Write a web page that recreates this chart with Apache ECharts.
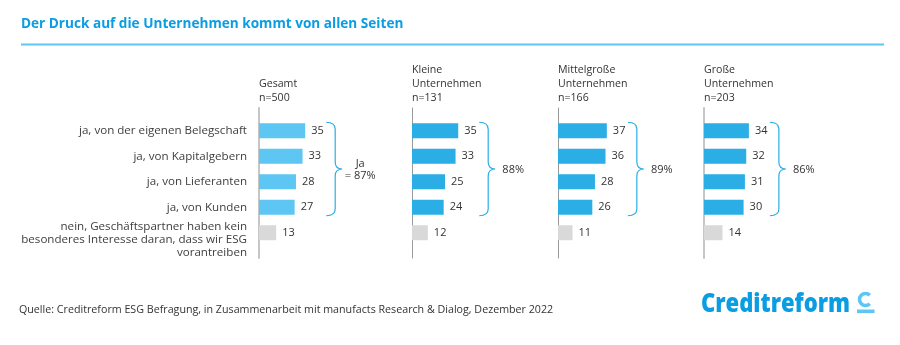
<!DOCTYPE html>
<html><head><meta charset="utf-8">
<script src="https://cdn.jsdelivr.net/npm/echarts@6/dist/echarts.min.js"></script>
<style>html,body{margin:0;padding:0;background:#fff}#c{width:900px;height:345px}</style>
</head><body><div id="c"></div>
<script>
// ---- data ----
const categories = [
  'ja, von der eigenen Belegschaft',
  'ja, von Kapitalgebern',
  'ja, von Lieferanten',
  'ja, von Kunden',
  'nein, Geschäftspartner haben kein\nbesonderes Interesse daran, dass wir ESG\nvorantreiben'
];
const groups = ['Gesamt', 'Kleine\nUnternehmen', 'Mittelgroße\nUnternehmen', 'Große\nUnternehmen'];
const groupN = [500, 131, 166, 203];
const gesamt = [35, 33, 28, 27, 13];
const kleine = [35, 33, 25, 24, 12];
const mittel = [37, 36, 28, 26, 11];
const grosse = [34, 32, 31, 30, 14];
const yesTotals = [87, 88, 89, 86];
const yesPrefix = ['Ja\n= ', '', '', ''];
const chartTitle = 'Der Druck auf die Unternehmen kommt von allen Seiten';
const sourceText = 'Quelle: Creditreform ESG Befragung, in Zusammenarbeit mit manufacts Research & Dialog, Dezember 2022';
const logoText = 'Creditreform';

// ---- layout / style ----
const FONT = '"Open Sans", "DejaVu Sans", sans-serif';
const values = [gesamt, kleine, mittel, grosse];
const axisX = [259, 412, 558, 704];
const gridW = 132, xMax = 100;
const barColors = ['#5ec6f2', '#2aaee5', '#2aaee5', '#2aaee5'];
const grayColor = '#d9d9d9';
const axisLineStyles = [
  {color: '#c6c6c6', width: 2}, {color: '#9a9a9a', width: 1},
  {color: '#9a9a9a', width: 1}, {color: '#c6c6c6', width: 2}
];
const barH = 15;
const LBL = 11.6;

const grids = [], xAxes = [], yAxes = [], series = [], titles = [];
values.forEach((vals, i) => {
  grids.push({left: axisX[i], top: 118, width: gridW, height: 127.5});
  xAxes.push({gridIndex: i, type: 'value', min: 0, max: xMax, show: false});
  yAxes.push({
    gridIndex: i, type: 'category', inverse: true, data: categories,
    axisLine: {show: false}, axisTick: {show: false},
    axisLabel: i === 0 ? {
      show: true, interval: 0, showMinLabel: true, showMaxLabel: true, hideOverlap: false,
      margin: 12, fontSize: LBL, color: '#404040', fontFamily: FONT, lineHeight: 13,
      // multi-line label sits a little lower in the reference: one empty leading line shifts it
      formatter: (v) => (v.indexOf('\n') < 0 ? v : '\n' + v)
    } : {show: false}
  });
  series.push({
    type: 'bar', xAxisIndex: i, yAxisIndex: i, barWidth: barH,
    data: vals.map((v, k) => ({value: v, itemStyle: {color: k === 4 ? grayColor : barColors[i]}})),
    label: {show: true, position: 'right', distance: 6, fontSize: 11, color: '#333', fontFamily: FONT},
    silent: true, z: 3
  });
  const yesMax = Math.max(...vals.slice(0, 4));
  series.push({
    type: 'custom', xAxisIndex: i, yAxisIndex: i, silent: true, z: 4,
    data: [[yesMax, 0, 3, yesPrefix[i] + yesTotals[i] + '%']],
    renderItem: (params, api) => {
      const xv = api.value(0);
      const p0 = api.coord([xv, api.value(1)]);
      const p1 = api.coord([xv, api.value(2)]);
      const xL = p0[0] + 21, xV = xL + 9, xT = xL + 16;
      const y0 = p0[1] - barH / 2 - 1, y1 = p1[1] + barH / 2 + 1, ym = (y0 + y1) / 2, r = 7;
      const d = `M${xL},${y0} Q${xV},${y0} ${xV},${y0 + r} L${xV},${ym - r} Q${xV},${ym} ${xT},${ym} ` +
                `Q${xV},${ym} ${xV},${ym + r} L${xV},${y1 - r} Q${xV},${y1} ${xL},${y1}`;
      const item = series[params.seriesIndex].data[params.dataIndex];
      return {type: 'group', children: [
        {type: 'path', shape: {pathData: d}, style: {fill: 'none', stroke: '#2aaee5', lineWidth: 1.2}},
        {type: 'text', x: xT + 18, y: ym + 1, style: {
          text: String(item[3]), align: 'center', verticalAlign: 'middle',
          fontSize: 11, fontFamily: FONT, fill: '#333', lineHeight: 12
        }}
      ]};
    }
  });
  titles.push({
    text: groups[i] + '\nn=' + groupN[i], left: axisX[i], bottom: 240, padding: 0,
    textStyle: {fontSize: 10.6, fontWeight: 'normal', color: '#333', fontFamily: FONT, lineHeight: 14}
  });
});
values.forEach((vals, i) => {
  grids.push({left: axisX[i], top: 108, width: gridW, height: 150});
  xAxes.push({gridIndex: 4 + i, type: 'value', show: false});
  yAxes.push({gridIndex: 4 + i, type: 'value', axisLine: {show: true, lineStyle: axisLineStyles[i]},
    axisTick: {show: false}, axisLabel: {show: false}, splitLine: {show: false}});
});

titles.push({
  text: chartTitle, left: 21, top: 15, padding: 0,
  textStyle: {fontSize: 13.6, fontWeight: 'bold', color: '#0a9de2', fontFamily: FONT, lineHeight: 18}
});
titles.push({
  text: sourceText, left: 19, top: 303, padding: 0,
  textStyle: {fontSize: 10.7, fontWeight: 'normal', color: '#333', fontFamily: FONT, lineHeight: 14}
});

const LOGO_FONT = '800 27px "Open Sans"';
const cv = document.createElement('canvas').getContext('2d');
cv.font = LOGO_FONT;
const logoScale = 149 / cv.measureText(logoText).width;

const chart = echarts.init(document.getElementById('c'), null, {renderer: 'canvas'});
chart.setOption({
  animation: false,
  backgroundColor: '#fff',
  title: titles,
  grid: grids, xAxis: xAxes, yAxis: yAxes, series: series,
  graphic: [
    {type: 'line', shape: {x1: 21, y1: 44.5, x2: 884, y2: 44.5}, style: {stroke: '#5ec6f2', lineWidth: 2}},
    {type: 'text', x: 701, y: 304, scaleX: logoScale, scaleY: 1, originX: 0, originY: 0, style: {
      text: logoText, font: LOGO_FONT, fill: '#0a9de2', verticalAlign: 'middle', align: 'left'}},
    {type: 'arc', shape: {cx: 865.5, cy: 299.5, r: 6, startAngle: 45 * Math.PI / 180, endAngle: 315 * Math.PI / 180, clockwise: true},
      style: {stroke: '#5ec6f2', lineWidth: 3.6, fill: 'none'}},
    {type: 'rect', shape: {x: 857, y: 309.5, width: 17.5, height: 3.6}, style: {fill: '#5ec6f2'}}
  ]
});
</script></body></html>
